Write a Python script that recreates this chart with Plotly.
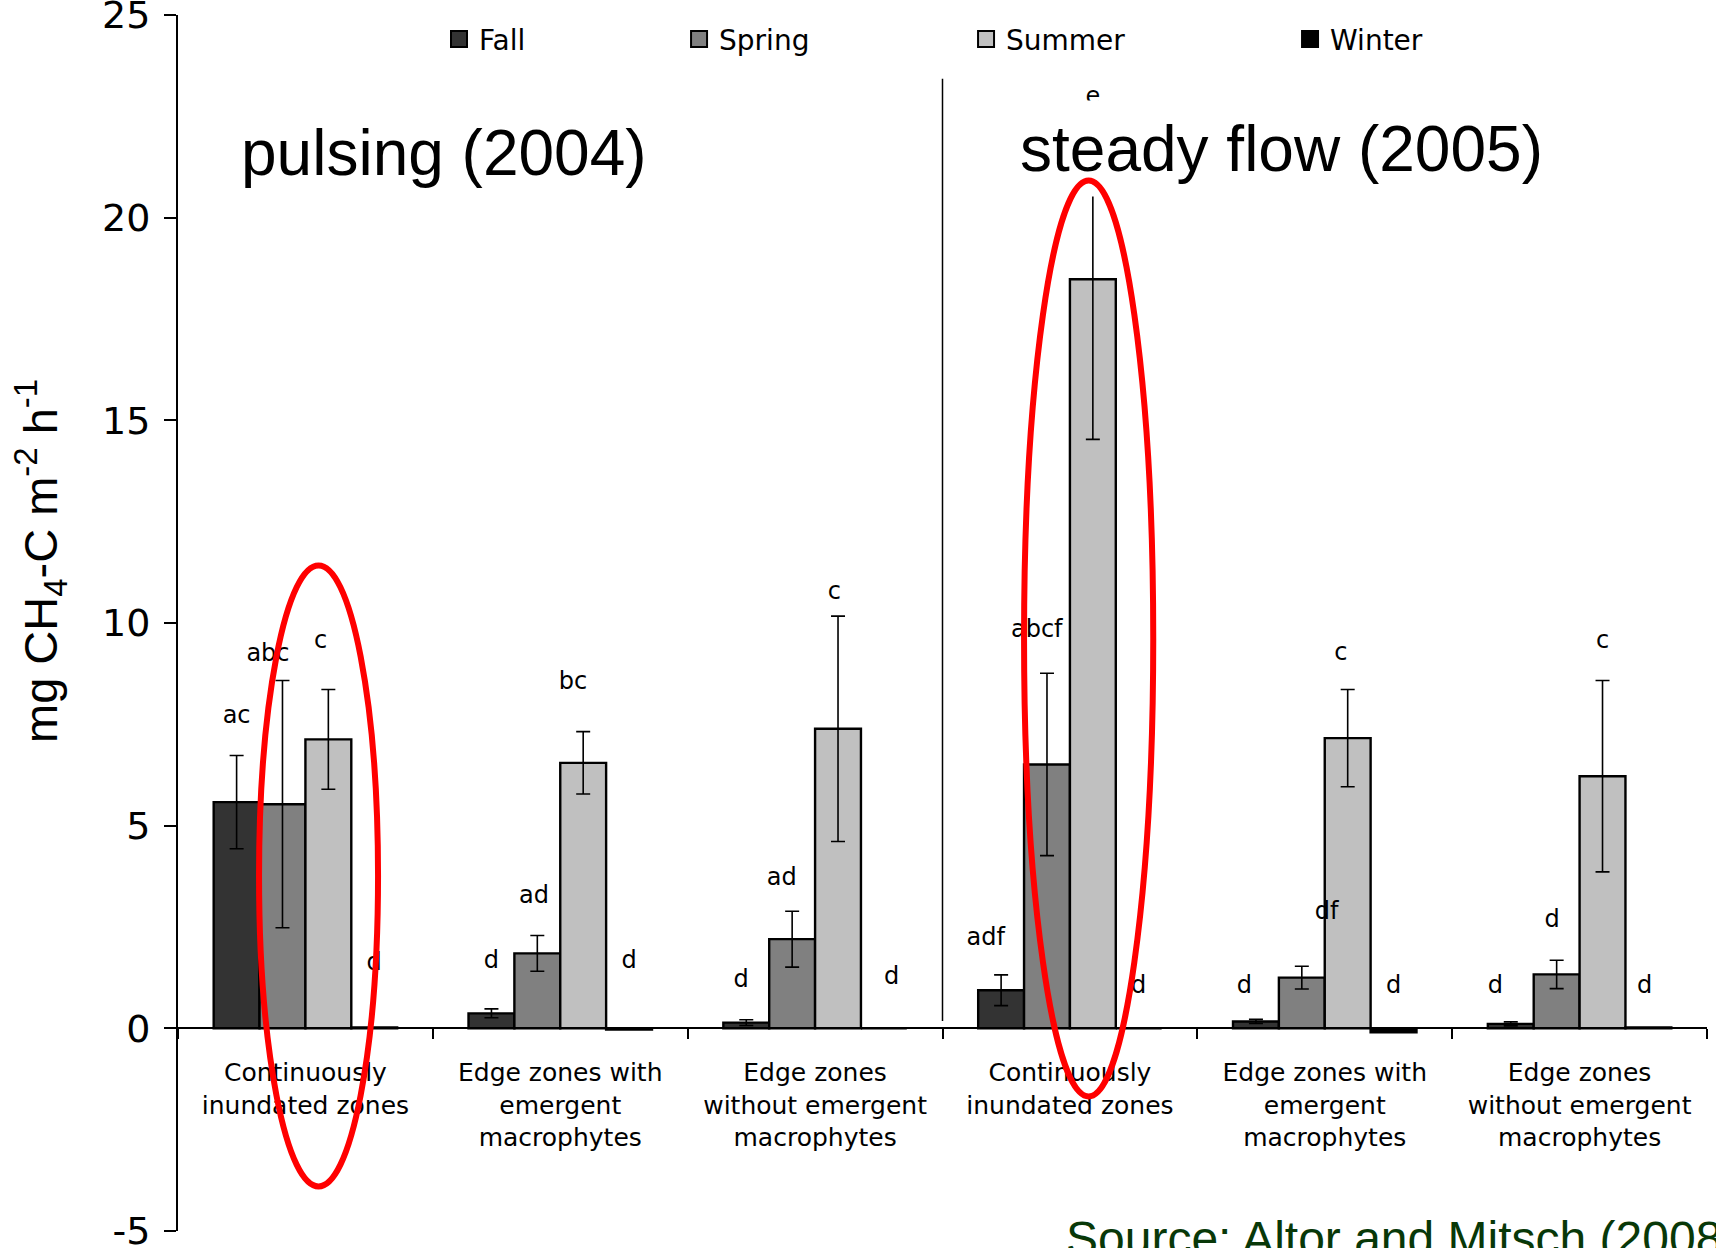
import plotly.graph_objects as go

# ---------------- data ----------------
categories = [
    "Continuously<br>inundated zones",
    "Edge zones with<br>emergent<br>macrophytes",
    "Edge zones<br>without emergent<br>macrophytes",
    "Continuously<br>inundated zones",
    "Edge zones with<br>emergent<br>macrophytes",
    "Edge zones<br>without emergent<br>macrophytes",
]
seasons = ["Fall", "Spring", "Summer", "Winter"]

fall = [5.58, 0.37, 0.14, 0.94, 0.17, 0.11]
fall_err = [1.15, 0.11, 0.07, 0.38, 0.05, 0.05]
spring = [5.53, 1.85, 2.20, 6.51, 1.25, 1.33]
spring_err = [3.05, 0.44, 0.69, 2.25, 0.28, 0.35]
summer = [7.13, 6.55, 7.39, 18.48, 7.16, 6.22]
summer_err = [1.23, 0.77, 2.78, 3.95, 1.20, 2.36]
winter = [0.02, -0.03, 0.0, 0.0, -0.10, 0.02]

fall_letters = ["ac", "d", "d", "adf", "d", "d"]
fall_letter_y = [7.67, 1.63, 1.17, 2.20, 1.01, 1.01]
spring_letters = ["abc", "ad", "ad", "abcf", "df", "d"]
spring_letter_y = [9.22, 3.23, 3.68, 9.80, 2.84, 2.65]
summer_letters = ["c", "bc", "c", "e", "c", "c"]
summer_letter_y = [9.52, 8.53, 10.75, 22.95, 9.24, 9.54]
winter_letters = ["d", "d", "d", "d", "d", "d"]
winter_letter_y = [1.58, 1.63, 1.23, 1.01, 1.01, 1.01]

y_tick_vals = [-5, 0, 5, 10, 15, 20, 25]
y_tick_text = ["-5", "0", "5", "10", "15", "20", "25"]

# ---------------- styling / layout helpers ----------------
colors = {"Fall": "#333333", "Spring": "#808080", "Summer": "#c0c0c0", "Winter": "#000000"}
values = {"Fall": fall, "Spring": spring, "Summer": summer, "Winter": winter}
errors = {"Fall": fall_err, "Spring": spring_err, "Summer": summer_err, "Winter": None}
letters = {"Fall": (fall_letters, fall_letter_y), "Spring": (spring_letters, spring_letter_y),
           "Summer": (summer_letters, summer_letter_y), "Winter": (winter_letters, winter_letter_y)}
# small horizontal nudges for the significance letters (layout only)
letter_dx = {
    "Fall": [0, 0, -0.02, -0.06, -0.045, -0.06],
    "Spring": [-0.057, -0.013, -0.041, -0.04, 0.097, -0.018],
    "Summer": [-0.03, -0.04, -0.014, 0, -0.027, 0],
    "Winter": [0, 0, 0.03, 0, 0, -0.015],
}

BARGAP = 0.28
bar_w = (1 - BARGAP) / len(seasons)
xpos = list(range(len(categories)))
YMIN, YMAX = -5, 25

fig = go.Figure()

for i, s in enumerate(seasons):
    err = errors[s]
    fig.add_trace(go.Bar(
        x=xpos, y=values[s], name=s, showlegend=False,
        marker=dict(color=colors[s], line=dict(color="black", width=2.4)),
        error_y=(dict(type="data", array=err, visible=True, color="black",
                      thickness=1.6, width=7) if err else None),
    ))

# significance letters
for i, s in enumerate(seasons):
    off = (i - 1.5) * bar_w
    txt, ys = letters[s]
    fig.add_trace(go.Scatter(
        x=[g + off + d for g, d in zip(xpos, letter_dx[s])], y=ys,
        text=txt, mode="text", showlegend=False, hoverinfo="skip",
        textfont=dict(family="DejaVu Sans", size=24, color="black"),
        textposition="middle center",
    ))

# legend entries (one legend per entry, spread across the top)
legend_x = [0.1707, 0.3277, 0.5154, 0.7273]
legend_names = ["legend", "legend2", "legend3", "legend4"]
for s, lg in zip(seasons, legend_names):
    fig.add_trace(go.Scatter(
        x=[None], y=[None], mode="markers", name=s, legend=lg, showlegend=True,
        marker=dict(symbol="square", size=18, color=colors[s], line=dict(color="black", width=2)),
    ))

legend_common = dict(orientation="h", yanchor="middle", y=0.980, xanchor="left",
                     bgcolor="rgba(0,0,0,0)", font=dict(family="DejaVu Sans", size=28, color="black"),
                     itemclick=False)
layout_legends = {lg: dict(legend_common, x=lx) for lg, lx in zip(legend_names, legend_x)}

zero_pos = (0 - YMIN) / (YMAX - YMIN)

fig.update_layout(
    width=1716, height=1248,
    margin=dict(l=178, r=9, t=15, b=17, autoexpand=False),
    paper_bgcolor="white", plot_bgcolor="white",
    barmode="group", bargap=BARGAP, bargroupgap=0,
    **layout_legends,
    xaxis=dict(
        range=[-0.5, 5.5], tickmode="array", tickvals=xpos, ticktext=categories,
        anchor="free", position=zero_pos, automargin=False,
        showline=True, linecolor="black", linewidth=2,
        showgrid=False, zeroline=False, ticks="",
        ticklabelstandoff=22,
        tickfont=dict(family="DejaVu Sans", size=25, color="black"),
        minor=dict(tickmode="array", tickvals=[-0.5, 0.5, 1.5, 2.5, 3.5, 4.5, 5.5],
                   ticks="outside", ticklen=10, tickwidth=1.5, tickcolor="black", showgrid=False),
    ),
    yaxis=dict(
        range=[YMIN, YMAX], tickmode="array", tickvals=y_tick_vals, ticktext=y_tick_text,
        automargin=False,
        ticks="outside", ticklen=12, tickwidth=1.5, tickcolor="black",
        showline=True, linecolor="black", linewidth=2,
        showgrid=False, zeroline=False,
        ticklabelstandoff=6, ticklabeloverflow="allow",
        tickfont=dict(family="DejaVu Sans", size=38, color="black"),
    ),
    shapes=[
        # white text box behind "steady flow (2005)"
        dict(type="rect", xref="x", yref="y", x0=2.773, x1=4.865, y0=20.52, y1=22.89,
             fillcolor="white", line=dict(width=0), layer="above"),
        # divider between the two years
        dict(type="line", xref="x", yref="y", x0=2.5, x1=2.5, y0=0.18, y1=23.43,
             line=dict(color="black", width=1.5), layer="above"),
        # red highlight ellipses
        dict(type="circle", xref="x", yref="y", x0=-0.182, x1=0.285, y0=-3.90, y1=11.42,
             line=dict(color="#ff0000", width=6), layer="above"),
        dict(type="circle", xref="x", yref="y", x0=2.820, x1=3.327, y0=-1.68, y1=20.92,
             line=dict(color="#ff0000", width=6), layer="above"),
    ],
    annotations=[
        dict(text="pulsing (2004)", xref="paper", yref="paper", x=0.174, y=0.8865,
             xanchor="center", yanchor="middle", showarrow=False,
             font=dict(family="Liberation Sans, Arial", size=64, color="black")),
        dict(text="steady flow (2005)", xref="paper", yref="paper", x=0.7214, y=0.8898,
             xanchor="center", yanchor="middle", showarrow=False,
             font=dict(family="Liberation Sans, Arial", size=64, color="black")),
        dict(text="mg CH<sub>4</sub>-C m<sup>-2</sup> h<sup>-1</sup>", xref="paper", yref="paper",
             x=-0.0896, y=0.551, xanchor="center", yanchor="middle", textangle=-90, showarrow=False,
             font=dict(family="Liberation Sans, Arial", size=47, color="black")),
        dict(text="Source: Altor and Mitsch (2008)", xref="paper", yref="paper",
             x=0.5795, y=0.0173, xanchor="left", yanchor="top", showarrow=False,
             font=dict(family="Liberation Sans, Arial", size=48, color="#083808")),
    ],
)

fig.write_html("out.html")
